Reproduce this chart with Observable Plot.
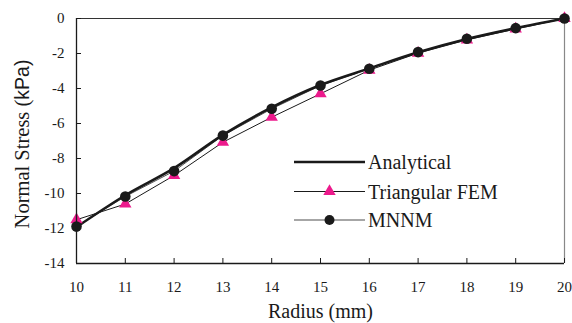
<!DOCTYPE html>
<html>
<head>
<meta charset="utf-8">
<script src="https://cdn.jsdelivr.net/npm/d3@7"></script>
<script src="https://cdn.jsdelivr.net/npm/@observablehq/plot@0.6"></script>
<style>
  html, body { margin: 0; padding: 0; background: #fff; }
</style>
</head>
<body>
<div id="chart"></div>
<script>
const radius = [10, 11, 12, 13, 14, 15, 16, 17, 18, 19, 20];
const analytical = [-11.92, -10.1, -8.55, -6.65, -5.08, -3.8, -2.85, -1.93, -1.17, -0.55, 0];
const triangularFEM = [-11.5, -10.6, -8.97, -7.07, -5.64, -4.3, -2.95, -1.98, -1.22, -0.6, 0];
const mnnm = [-11.89, -10.17, -8.72, -6.69, -5.16, -3.83, -2.87, -1.92, -1.16, -0.55, 0];
const xTicks = [10, 11, 12, 13, 14, 15, 16, 17, 18, 19, 20];
const yTicks = [0, -2, -4, -6, -8, -10, -12, -14];
const seriesNames = ["Analytical", "Triangular FEM", "MNNM"];
const xLabel = "Radius (mm)";
const yLabelSerif = "Normal Stress (";
const yLabelSans = "kPa)";

const magenta = "#ec1a8c";
const ink = "#1a1a1a";

const rows = (vals) => radius.map((r, i) => ({r, v: vals[i]}));
const A = rows(analytical), F = rows(triangularFEM), M = rows(mnnm);

const chart = Plot.plot({
  width: 572,
  height: 323,
  marginLeft: 76,
  marginRight: 8,
  marginTop: 18,
  marginBottom: 60,
  style: {fontFamily: "'Liberation Serif', serif", fontSize: "15px", color: ink, background: "#fff"},
  x: {domain: [10, 20]},
  y: {domain: [-14, 0]},
  marks: [
    Plot.ruleY([0], {stroke: "#333", strokeWidth: 1.2}),
    Plot.ruleX([20], {stroke: "#888", strokeWidth: 1.2}),
    Plot.line(F, {x: "r", y: "v", stroke: ink, strokeWidth: 1}),
    Plot.line(M, {x: "r", y: "v", stroke: "#555", strokeWidth: 1}),
    Plot.line(A, {x: "r", y: "v", stroke: ink, strokeWidth: 2.6, curve: "monotone-x"}),
    Plot.dot(F, {x: "r", y: "v", symbol: "triangle", r: 4.6, fill: magenta, stroke: "none"}),
    Plot.dot(M, {x: "r", y: "v", symbol: "circle", r: 5.3, fill: ink, stroke: "none"}),
    Plot.axisX({ticks: xTicks, tickSize: -5, tickPadding: 23, tickFormat: d => String(d), label: null, stroke: ink, fill: ink}),
    Plot.axisY({ticks: yTicks, tickSize: -5, tickPadding: 17, tickFormat: d => String(d), label: null, stroke: ink, fill: ink}),
    Plot.ruleX([10], {stroke: ink, strokeWidth: 1.3}),
    Plot.ruleY([-14], {stroke: ink, strokeWidth: 1.3}),
    Plot.text([xLabel], {frameAnchor: "bottom", dy: 54, lineAnchor: "bottom", fontSize: 20, fill: ink}),
    Plot.text([yLabelSerif + yLabelSans], {frameAnchor: "left", textAnchor: "middle", lineAnchor: "middle", dx: -54, dy: 3, rotate: -90, fontSize: 20.5, fill: ink, className: "ylab"})
  ]
});

document.getElementById("chart").appendChild(chart);

// mixed-font y label
const svg = d3.select(chart);
svg.selectAll("g.ylab text").each(function() {
  const t = d3.select(this);
  t.text(null);
  t.append("tspan").text(yLabelSerif);
  t.append("tspan").style("font-family", "'Liberation Sans', Arial, sans-serif").style("font-size", "19.5px").text(yLabelSans);
});

// legend
const lg = svg.append("g").attr("font-family", "'Liberation Serif', serif").attr("font-size", 20).attr("fill", ink).attr("text-anchor", "start");
const rowsY = [162, 191.5, 220];
const x0 = 294, x1 = 365, xm = 329.5;
seriesNames.forEach((name, i) => {
  const y = rowsY[i];
  const line = lg.append("line").attr("x1", x0).attr("x2", x1).attr("y1", y).attr("y2", y);
  if (i === 0) line.attr("stroke", ink).attr("stroke-width", 2.6);
  else if (i === 1) line.attr("stroke", ink).attr("stroke-width", 1);
  else line.attr("stroke", "#888").attr("stroke-width", 1.6);
  if (i === 1) lg.append("path").attr("transform", `translate(${xm},${y})`).attr("d", d3.symbol(d3.symbolTriangle, Math.PI * 21)()).attr("fill", magenta);
  if (i === 2) lg.append("circle").attr("cx", xm).attr("cy", y).attr("r", 5).attr("fill", ink);
  lg.append("text").attr("x", 368).attr("y", y + 7).attr("text-anchor", "start").text(name);
});
</script>
</body>
</html>
